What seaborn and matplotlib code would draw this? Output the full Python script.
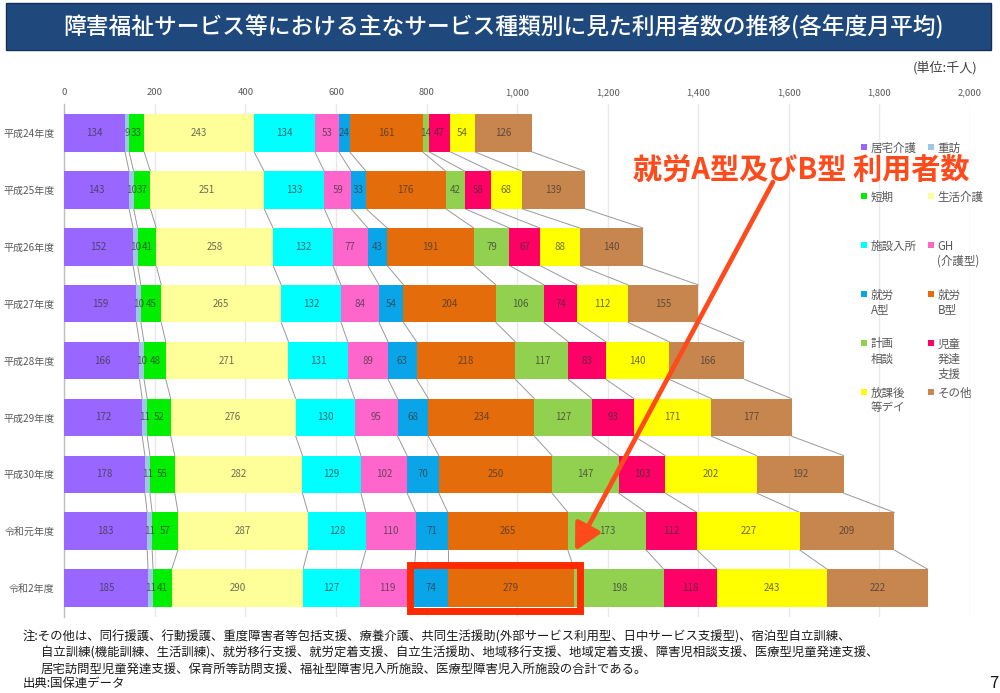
import numpy as np
import matplotlib
matplotlib.use("Agg")
import matplotlib.pyplot as plt
from matplotlib.patches import Rectangle
import seaborn as sns

years = ["平成24年度", "平成25年度", "平成26年度", "平成27年度", "平成28年度",
         "平成29年度", "平成30年度", "令和元年度", "令和2年度"]
kyotaku = [134, 143, 152, 159, 166, 172, 178, 183, 185]
juho = [9, 10, 10, 10, 10, 11, 11, 11, 11]
tanki = [33, 37, 41, 45, 48, 52, 55, 57, 41]
seikatsu = [243, 251, 258, 265, 271, 276, 282, 287, 290]
shisetsu = [134, 133, 132, 132, 131, 130, 129, 128, 127]
gh = [53, 59, 77, 84, 89, 95, 102, 110, 119]
shuro_a = [24, 33, 43, 54, 63, 68, 70, 71, 74]
shuro_b = [161, 176, 191, 204, 218, 234, 250, 265, 279]
keikaku = [14, 42, 79, 106, 117, 127, 147, 173, 198]
jido = [47, 58, 67, 74, 83, 93, 103, 112, 118]
hokago = [54, 68, 88, 112, 140, 171, 202, 227, 243]
sonota = [126, 139, 140, 155, 166, 177, 192, 209, 222]
series = [kyotaku, juho, tanki, seikatsu, shisetsu, gh,
          shuro_a, shuro_b, keikaku, jido, hokago, sonota]
legend_names = ["居宅介護", "重訪", "短期", "生活介護", "施設入所", "GH\n(介護型)",
                "就労\nA型", "就労\nB型", "計画\n相談", "児童\n発達\n支援", "放課後\n等デイ", "その他"]
colors = ["#9966FF", "#9DC8E4", "#00EE00", "#FFFF99", "#00FFFF", "#FF66CC",
          "#0AA5E8", "#E46C0A", "#92D050", "#FF0066", "#FFFF00", "#C8864F"]
xticks = list(range(0, 2001, 200))

title = "障害福祉サービス等における主なサービス種類別に見た利用者数の推移(各年度月平均)"
callout = "就労A型及びB型 利用者数"
notes = ["注:その他は、同行援護、行動援護、重度障害者等包括支援、療養介護、共同生活援助(外部サービス利用型、日中サービス支援型)、宿泊型自立訓練、",
         "自立訓練(機能訓練、生活訓練)、就労移行支援、就労定着支援、自立生活援助、地域移行支援、地域定着支援、障害児相談支援、医療型児童発達支援、",
         "居宅訪問型児童発達支援、保育所等訪問支援、福祉型障害児入所施設、医療型障害児入所施設の合計である。",
         "出典:国保連データ"]

sns.set_theme(style="white")
plt.rcParams["font.family"] = ["Noto Sans CJK JP", "DejaVu Sans"]

W, H = 1000, 693
fig = plt.figure(figsize=(W / 100, H / 100), dpi=100, facecolor="white")
ax = fig.add_axes([64.3 / W, 1 - 616.6 / H, (970 - 64.3) / W, (616.6 - 104.5) / H])

BAR_W = 0.66
GREY = "#595959"
left = np.zeros(len(years))
lefts = []
for vals, col in zip(series, colors):
    sns.barplot(x=vals, y=years, left=left, color=col, saturation=1, width=BAR_W,
                orient="y", ax=ax, zorder=3, linewidth=0)
    ax.bar_label(ax.containers[-1], labels=[str(v) for v in vals], label_type="center",
                 fontsize=7, color="#333333", alpha=0.72, zorder=5)
    left = left + np.array(vals)
    lefts.append(left.copy())

# connector lines between consecutive years, following each cumulative boundary
for cum in lefts:
    for i in range(len(years) - 1):
        ax.plot([cum[i], cum[i + 1]], [i + BAR_W / 2, i + 1 - BAR_W / 2],
                color="#999999", lw=0.7, zorder=2)

ax.set_xlim(0, 2000)
ax.set_ylim(len(years) - 0.5, -0.5)
ax.set_xticks(xticks)
ax.set_xticklabels([f"{t:,}" for t in xticks], fontsize=6.8, color=GREY)
ax.xaxis.tick_top()
ax.xaxis.grid(True, color="#E8E8E8", lw=1, zorder=0)
ax.yaxis.grid(False)
ax.set_axisbelow(True)
ax.tick_params(axis="x", length=0, pad=5.5)
ax.tick_params(axis="y", length=0, pad=7, labelsize=7.2, labelcolor=GREY)
ax.set_xlabel("")
ax.set_ylabel("")
for s in ["top", "right", "bottom"]:
    ax.spines[s].set_visible(False)
ax.spines["left"].set_color("#BFBFBF")
ax.spines["left"].set_linewidth(1)

# overlay in pixel coordinates for slide furniture
ov = fig.add_axes([0, 0, 1, 1], facecolor="none", zorder=10)
ov.set_xlim(0, W)
ov.set_ylim(H, 0)
ov.axis("off")

ov.add_patch(Rectangle((6, 3), 985, 47, facecolor="#1F497D", edgecolor="#14305A", lw=1))
ov.text(503.5, 27, title, color="white", fontsize=16.4, weight="medium", ha="center", va="center")
ov.text(978, 68, "(単位:千人)", color="#404040", fontsize=9.4, ha="right", va="center")

# legend
col_x = [864, 931]
row_y = [147, 196, 245, 294, 343, 392]
for k, (name, col) in enumerate(zip(legend_names, colors)):
    x = col_x[k % 2]
    y = row_y[k // 2]
    ov.add_patch(Rectangle((x - 3, y - 3), 6, 6, facecolor=col, edgecolor="none"))
    ov.text(x + 6.5, y - 5.5, name, fontsize=8.3, color=GREY, ha="left", va="top", linespacing=1.2)

# call-out
ORANGE = "#FF4A1C"
ov.annotate("", xy=(575, 551), xytext=(773, 182),
            arrowprops=dict(arrowstyle="-|>,head_length=0.8,head_width=0.42", color=ORANGE,
                            lw=3.4, mutation_scale=20, shrinkA=0, shrinkB=0))
ov.text(801.5, 170, callout, color=ORANGE, fontsize=21, weight="bold", ha="center", va="center")
ov.add_patch(Rectangle((409.5, 564.5), 170.5, 46, facecolor="none", edgecolor="#FF2A00", lw=5, joinstyle="miter"))

# notes
for txt, x, y in zip(notes, [23, 41, 41, 23], [637, 653, 669, 683]):
    ov.text(x, y, txt, fontsize=8.9, color="#1A1A1A", ha="left", va="center")
ov.text(998, 684, "7", fontsize=12, color="#1A1A1A", ha="right", va="center")

fig.savefig("out.png", dpi=100)
